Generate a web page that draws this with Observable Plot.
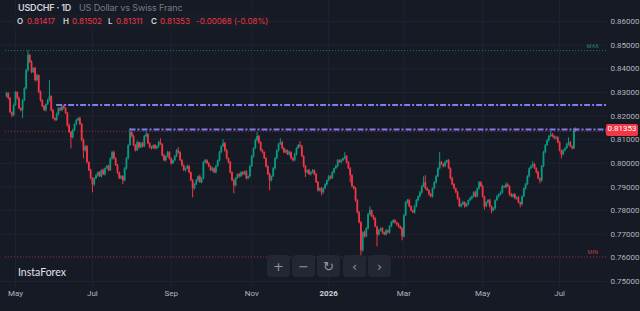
<!DOCTYPE html>
<html><head><meta charset="utf-8">
<script src="https://cdn.jsdelivr.net/npm/d3@7"></script>
<script src="https://cdn.jsdelivr.net/npm/@observablehq/plot@0.6"></script>
<style>
html,body{margin:0;padding:0;background:#161a25;}
#wrap{position:relative;width:640px;height:311px;overflow:hidden;font-family:Inter,"Noto Sans",sans-serif;}
#wrap svg{display:block;}
.ov{position:absolute;white-space:nowrap;}
.btn{position:absolute;top:255px;width:23px;height:22px;border-radius:4px;background:#232733;color:#8f929b;font:13px "DejaVu Sans",sans-serif;display:flex;align-items:center;justify-content:center;}
</style></head><body><div id="wrap"></div>
<script>
// ---------- data ----------
const symbolText = "USDCHF · 1D";
const descriptionText = "US Dollar vs Swiss Franc";
const brandText = "InstaForex";
const firstDate = "2025-04-24";
const firstOpen = 0.8282;
const closes = [
.8295,.8274,.8214,.8202,.8244,.8299,.8274,.8231,.8223,.8265,
.8316,.8392,.8456,.8426,.8384,.8401,.8350,.8371,.8299,.8265,
.8240,.8223,.8248,.8265,.8282,.8223,.8189,.8181,.8206,.8231,
.8223,.8240,.8231,.8210,.8159,.8130,.8108,.8138,.8164,.8181,
.8189,.8164,.8096,.8053,.8070,.8003,.7969,.7935,.7909,.7935,
.7947,.7960,.7943,.7969,.7952,.7977,.7986,.7969,.8019,.8045,
.8019,.7990,.7960,.7935,.7943,.7926,.7977,.8019,.8075,.8130,
.8113,.8075,.8053,.8087,.8066,.8083,.8070,.8113,.8121,.8083,
.8066,.8062,.8075,.8062,.8070,.8087,.8079,.8032,.8011,.8028,
.8045,.8019,.7998,.8011,.8028,.8053,.8045,.8011,.7990,.7969,
.7977,.7986,.7960,.7926,.7892,.7909,.7926,.7943,.7918,.7935,
.8003,.8011,.7998,.7986,.7969,.7977,.7960,.7986,.8011,.8045,
.8070,.8083,.8053,.8019,.8003,.7960,.7926,.7905,.7935,.7952,
.7943,.7960,.7952,.7964,.7935,.7943,.7986,.8028,.8062,.8096,
.8113,.8087,.8053,.8045,.8019,.7986,.7952,.7926,.7943,.7977,
.8019,.8053,.8079,.8087,.8062,.8045,.8053,.8036,.8045,.8019,
.8011,.8036,.8062,.8075,.8070,.8028,.7986,.7960,.7969,.7952,
.7960,.7969,.7952,.7918,.7884,.7892,.7875,.7892,.7909,.7926,
.7943,.7935,.7960,.7977,.7986,.8011,.8003,.8011,.8019,.8028,
.8003,.7977,.7947,.7901,.7892,.7842,.7791,.7748,.7630,.7706,
.7689,.7723,.7782,.7799,.7774,.7765,.7731,.7697,.7714,.7723,
.7706,.7697,.7714,.7706,.7731,.7748,.7757,.7748,.7740,.7731,
.7723,.7689,.7778,.7833,.7842,.7816,.7799,.7791,.7816,.7842,
.7858,.7875,.7901,.7918,.7892,.7884,.7867,.7858,.7892,.7918,
.7943,.7977,.8003,.7994,.7986,.8003,.8011,.7977,.7935,.7909,
.7892,.7875,.7850,.7816,.7825,.7833,.7816,.7825,.7842,.7850,
.7858,.7875,.7858,.7892,.7918,.7901,.7858,.7816,.7833,.7842,
.7816,.7799,.7808,.7842,.7858,.7867,.7875,.7901,.7897,.7909,
.7901,.7867,.7858,.7867,.7850,.7854,.7833,.7825,.7858,.7892,
.7909,.7943,.7977,.7986,.7994,.7977,.7960,.7935,.7926,.7986,
.8045,.8075,.8096,.8113,.8121,.8113,.8104,.8108,.8087,.8053,
.8036,.8053,.8062,.8079,.8087,.8070,.8062,.81421,.81353];
// wick lengths beyond the body, in pips (0.0001)
const wickHighPips = [
6,4,5,3,7,5,4,6,3,5, 4,6,21,5,8,4,6,5,3,7, 4,5,3,6,68,4,5,3,6,4, 5,3,6,4,5,7,4,6,3,5,
4,6,5,7,4,5,3,6,5,4, 6,3,5,4,7,3,5,6,4,5, 7,4,5,3,6,4,5,6,4,17, 5,6,4,7,3,5,6,4,13,5,
4,6,3,5,4,6,17,4,5,3, 6,5,4,3,5,6,13,4,5,3, 4,6,5,3,5,4,6,3,7,4, 5,6,4,5,3,6,4,5,3,6,
4,17,5,6,3,5,4,6,5,3, 6,4,5,3,5,4,6,5,3,7, 17,5,4,6,3,5,4,6,3,5, 6,4,5,17,6,4,5,3,6,4,
5,6,4,5,17,6,4,5,3,6, 4,5,3,6,5,4,6,3,5,4, 6,4,5,3,6,5,4,6,3,17, 5,4,6,5,3,6,4,5,6,4,
7,5,6,17,4,6,5,3,6,4, 5,3,6,4,5,6,4,5,3,6, 4,5,6,4,5,6,4,3,6,5, 4,6,5,25,30,5,4,6,3,5,
6,4,42,5,4,6,3,5,4,6, 5,3,6,4,5,6,4,5,3,6, 4,5,6,3,5,4,6,3,5,4, 6,4,5,3,6,4,5,6,3,8,
5,4,6,3,5,4,6,3,5,4, 6,5,4,6,13,5,4,6,3,5, 6,4,5,4,13,5,4,6,5,4, 3,5,4,6,21,5,4,6,6];
const wickLowPips = [
5,6,4,8,5,3,6,4,5,34, 4,5,6,3,5,4,6,5,4,6, 5,4,6,3,5,6,4,5,3,6, 4,6,5,3,6,4,47,5,3,6,
5,4,6,34,5,6,4,5,34,6, 4,6,3,5,4,6,3,5,4,6, 5,3,6,4,5,17,4,6,5,3, 6,4,5,3,6,4,5,3,6,4,
5,6,3,5,4,6,3,5,4,6, 4,5,6,3,5,4,6,3,5,4, 6,4,5,3,38,5,4,6,3,5, 4,6,3,5,4,6,3,5,4,6,
5,3,6,4,5,6,4,34,5,3, 6,4,5,3,6,4,5,3,6,4, 5,6,4,5,3,6,4,42,5,3, 6,4,5,3,6,4,5,3,6,4,
5,4,6,3,5,4,6,20,5,3, 6,4,5,3,6,4,13,5,3,6, 4,5,3,6,4,5,3,6,4,5, 6,3,30,5,4,6,5,4,25,6,
5,4,6,5,3,6,4,50,5,4, 6,3,5,4,6,3,5,4,6,5, 4,17,5,3,6,4,5,3,6,4, 5,3,6,4,5,3,6,4,5,3,
6,4,5,3,6,4,5,3,6,4, 5,4,6,3,5,4,6,3,5,4, 6,3,5,4,6,3,5,13,4,6, 5,13,4,6,3,5,4,6,3,5,
4,6,3,5,4,6,3,13,5,4, 6,3,5,4,6,3,5,4,13,6, 4,5,3,6,4,5,3,6,4,5, 17,4,5,3,6,4,5,4,5];
const lastBarOHLC = [0.81417, 0.81502, 0.81311, 0.81353];
const changeText = "-0.00068 (-0.08%)";
const yTicks = [0.75,0.76,0.77,0.78,0.79,0.80,0.81,0.82,0.83,0.84,0.85,0.86,0.87];
const xTickDates = ["2025-05-01","2025-07-01","2025-09-01","2025-11-01","2026-01-01","2026-03-01","2026-05-01","2026-07-01"];
const xTickLabels = ["May","Jul","Sep","Nov","2026","Mar","May","Jul"];
const levelPrices = [0.8247, 0.8143];
const levelStartDates = ["2025-06-03","2025-07-30"];

// ---------- build ----------
const up = "#089981", down = "#f23645";
const dates = [];
{ const d = new Date(firstDate + "T00:00:00Z");
  while (dates.length < closes.length) { const wd = d.getUTCDay(); if (wd !== 0 && wd !== 6) dates.push(new Date(d)); d.setUTCDate(d.getUTCDate() + 1); } }
const bars = closes.map((c, i) => {
  const o = i === 0 ? firstOpen : closes[i - 1];
  return {i, date: dates[i], open: o, close: c,
    high: Math.max(o, c) + wickHighPips[i] / 1e4, low: Math.min(o, c) - wickLowPips[i] / 1e4};
});
{ const lb = bars[bars.length - 1]; [lb.open, lb.high, lb.low, lb.close] = lastBarOHLC; }
const idxOf = s => { const t = new Date(s + "T00:00:00Z"); return dates.findIndex(d => d >= t); };
const xDomain = [-3.35, 335.2];
const xTicks = xTickDates.map((s, k) => ({i: idxOf(s), label: xTickLabels[k], year: /^\d{4}$/.test(xTickLabels[k])}));
const levels = levelPrices.map((p, k) => ({price: p, x1: idxOf(levelStartDates[k]), x2: xDomain[1]}));
const maxHigh = d3.max(bars, d => d.high), minLow = d3.min(bars, d => d.low);
const last = bars[bars.length - 1];
const hl = v => [{y: v, x1: -0.5, x2: xDomain[1]}];
const upBars = bars.filter(d => d.close >= d.open), downBars = bars.filter(d => d.close < d.open);

const chart = Plot.plot({
  width: 640, height: 311,
  marginLeft: 0, marginRight: 34, marginTop: 0, marginBottom: 23,
  style: {background: "#161a25", color: "#b2b5be", fontFamily: "Roboto, sans-serif"},
  x: {type: "linear", domain: xDomain, axis: null},
  y: {domain: [0.74704, 0.86889]},
  marks: [
    Plot.ruleY(yTicks.filter(v => v < 0.868), {stroke: "#1f2331", strokeWidth: 1}),
    Plot.ruleX(xTicks, {x: "i", stroke: "#1f2331", strokeWidth: 1}),
    Plot.ruleY(hl(maxHigh), {y: "y", x1: "x1", x2: "x2", stroke: "#1d7a62", strokeDasharray: "1 2", strokeWidth: 1}),
    Plot.ruleY(hl(minLow), {y: "y", x1: "x1", x2: "x2", stroke: "#8a2c36", strokeDasharray: "1 2", strokeWidth: 1}),
    Plot.text([{y: maxHigh}], {x: 327.5, y: "y", text: () => "MAX", dy: -4, fill: "#1f8a6c", fontSize: 5.5}),
    Plot.text([{y: minLow}], {x: 327.5, y: "y", text: () => "MIN", dy: -4, fill: "#b33c48", fontSize: 5.5}),
    Plot.ruleY(hl(last.close), {y: "y", x1: "x1", x2: "x2", stroke: "#f23645", strokeOpacity: 0.65, strokeDasharray: "1 2", strokeWidth: 1}),
    Plot.ruleX(upBars, {x: "i", y1: "low", y2: "high", stroke: up, strokeWidth: 1}),
    Plot.ruleX(downBars, {x: "i", y1: "low", y2: "high", stroke: down, strokeWidth: 1}),
    Plot.ruleX(upBars, {x: "i", y1: "open", y2: "close", stroke: up, strokeWidth: 1.8}),
    Plot.ruleX(downBars, {x: "i", y1: "open", y2: "close", stroke: down, strokeWidth: 1.8}),
    Plot.ruleY(levels, {y: "price", x1: "x1", x2: "x2", stroke: "#7f7cf6", strokeWidth: 2, strokeDasharray: "6 2 2 2"}),
    Plot.axisY(yTicks, {anchor: "right", tickSize: 0, tickPadding: 4, tickFormat: d => d.toFixed(5), fill: "#b2b5be", fontSize: 8}),
    Plot.text(xTicks.filter(d => !d.year), {x: "i", text: "label", frameAnchor: "bottom", dy: 7, fill: "#b2b5be", fontSize: 8}),
    Plot.text(xTicks.filter(d => d.year), {x: "i", text: "label", frameAnchor: "bottom", dy: 7, fill: "#d1d4dc", fontSize: 8, fontWeight: "bold"})
  ]
});
const wrap = document.getElementById("wrap");
wrap.appendChild(chart);

function ov(text, left, top, css) {
  const el = document.createElement("div"); el.className = "ov"; el.textContent = text;
  el.style.left = left + "px"; el.style.top = top + "px"; el.style.cssText += css; wrap.appendChild(el); return el;
}
// header
ov(symbolText, 18, 2, "font:600 9px Inter,sans-serif;letter-spacing:-0.2px;color:#d1d4dc;");
ov(descriptionText, 79, 2, "font:400 9px Inter,sans-serif;letter-spacing:-0.1px;color:#787b86;");
const box = document.createElement("div");
box.style.cssText = "position:absolute;left:12px;top:14px;width:257px;height:15px;border-radius:4px;background:rgba(24,28,38,0.95);";
wrap.appendChild(box);
const ohlcLabels = ["O", "H", "L", "C"];
const ohlcPos = [[17, 27], [63, 72], [108, 116], [151, 160]];
const ohlcVals = [last.open, last.high, last.low, last.close];
ohlcLabels.forEach((l, k) => {
  ov(l, ohlcPos[k][0], 16, "font:600 8px Inter,sans-serif;color:#d1d4dc;");
  ov(ohlcVals[k].toFixed(5), ohlcPos[k][1], 16, "font:400 8px Inter,sans-serif;color:#f23645;");
});
ov(changeText, 196, 16, "font:400 8px Inter,sans-serif;color:#f23645;");
// price tag
const py = chart.scale("y").apply(last.close);
ov(last.close.toFixed(5), 606, py - 6.5, "width:32px;height:12px;line-height:12px;text-align:center;border-radius:2px;background:#f23645;color:#fff;font:8px Roboto,sans-serif;");
// brand
ov(brandText, 18, 266, "font:400 10.5px Lato,sans-serif;color:#e0e3eb;");
// nav buttons
["+", "−", "↻", "‹", "›"].forEach((s, k) => {
  const b = document.createElement("div"); b.className = "btn"; b.textContent = s;
  b.style.left = [267, 292, 317, 343, 368][k] + "px"; wrap.appendChild(b);
});
</script></body></html>
